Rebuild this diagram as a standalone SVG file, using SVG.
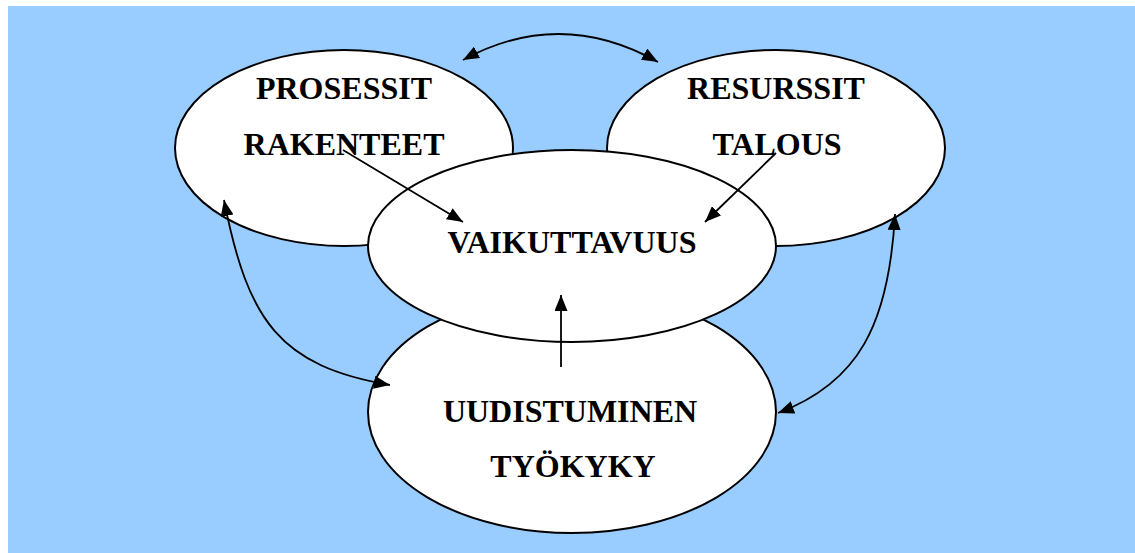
<svg xmlns="http://www.w3.org/2000/svg" width="1135" height="553" viewBox="0 0 1135 553">
  <style>
    .node ellipse { fill: #ffffff; stroke: #000000; stroke-width: 2; }
    .node text { font-family: "Liberation Serif", "Times New Roman", serif; font-weight: bold; font-size: 32px; fill: #000000; text-anchor: middle; }
    .edge { fill: none; stroke: #000000; stroke-width: 1.8; }
  </style>
  <defs>
    <marker id="arrow" viewBox="0 0 16 13" refX="16" refY="6.5" markerWidth="16" markerHeight="13" markerUnits="userSpaceOnUse" orient="auto-start-reverse">
      <path d="M0,0 L16,6.5 L0,13 Z" fill="#000000"/>
    </marker>
  </defs>

  <!-- background panel -->
  <rect x="8" y="6" width="1127" height="547" fill="#99ccff"/>

  <g id="prosessit" class="node">
    <ellipse cx="344" cy="148" rx="169" ry="98"/>
    <text x="344" y="99">PROSESSIT</text>
    <text x="344" y="155">RAKENTEET</text>
  </g>

  <g id="resurssit" class="node">
    <ellipse cx="776" cy="148" rx="169" ry="98"/>
    <text x="776" y="99">RESURSSIT</text>
    <text x="777" y="155">TALOUS</text>
  </g>

  <g id="uudistuminen" class="node">
    <ellipse cx="572" cy="412" rx="204" ry="121"/>
    <text x="570" y="422">UUDISTUMINEN</text>
    <text x="573" y="477">TYÖKYKY</text>
  </g>

  <g id="vaikuttavuus" class="node">
    <ellipse cx="572" cy="246" rx="204" ry="96"/>
    <text x="572" y="253">VAIKUTTAVUUS</text>
  </g>

  <g id="connectors">
    <!-- two-way arc between the upper nodes -->
    <path class="edge" d="M463,60 Q560,7 658,62" marker-start="url(#arrow)" marker-end="url(#arrow)"/>
    <!-- two-way arc on the left -->
    <path class="edge" d="M224,200 C248,322 280,366 390,385" marker-start="url(#arrow)" marker-end="url(#arrow)"/>
    <!-- two-way arc on the right -->
    <path class="edge" d="M895,214 C889,325 858,383 778,413" marker-start="url(#arrow)" marker-end="url(#arrow)"/>
    <!-- arrows into the centre -->
    <path class="edge" d="M343,150 L463,222" marker-end="url(#arrow)"/>
    <path class="edge" d="M776,153 L705,222" marker-end="url(#arrow)"/>
    <path class="edge" d="M561,367 L561,295" marker-end="url(#arrow)"/>
  </g>
</svg>
